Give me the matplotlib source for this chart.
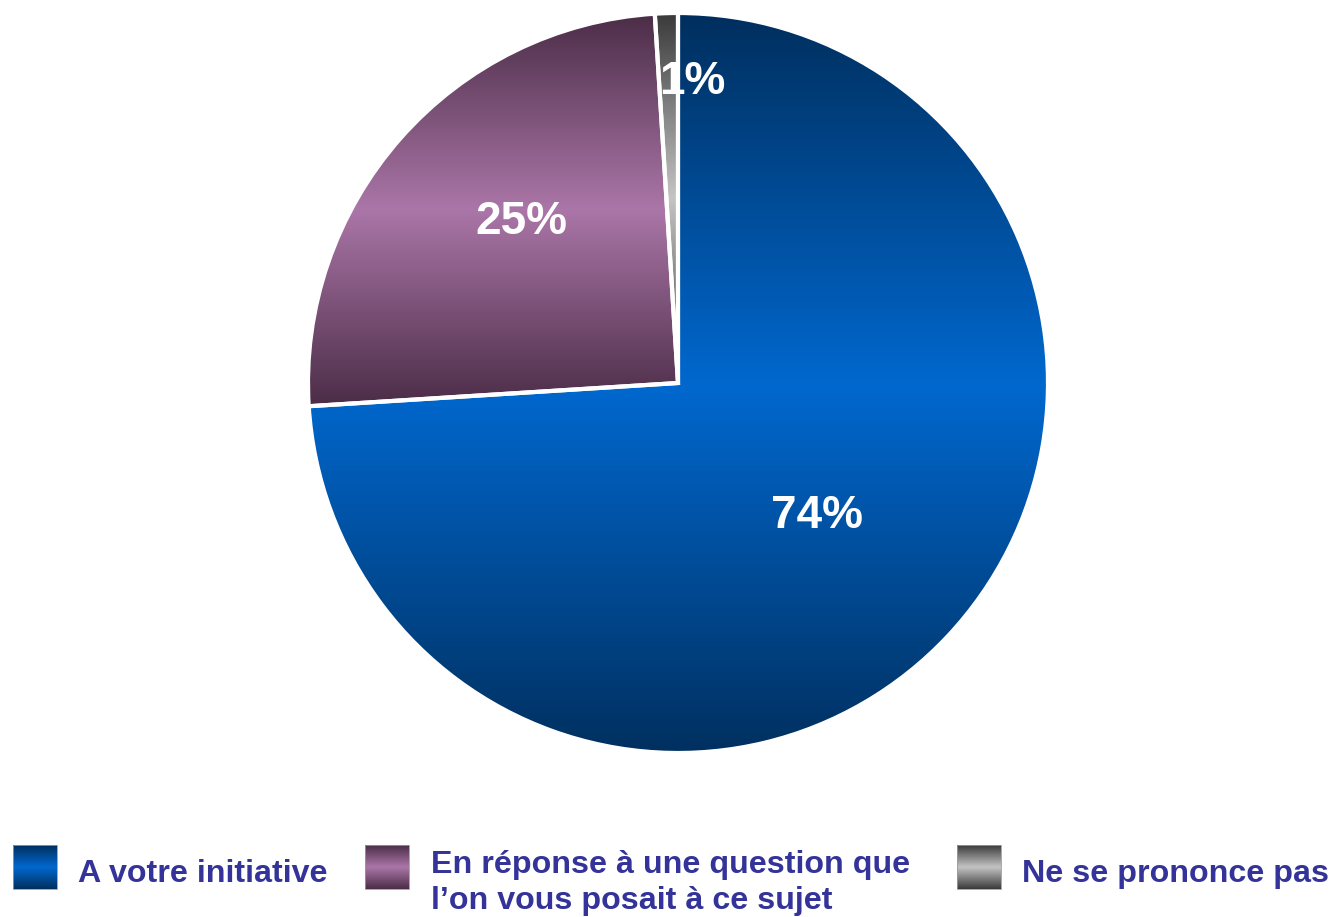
import numpy as np
import matplotlib.pyplot as plt
from matplotlib.colors import LinearSegmentedColormap
from matplotlib.patches import Rectangle

plt.rcParams['font.family'] = ['Liberation Sans', 'DejaVu Sans']

labels = ['A votre initiative',
          'En réponse à une question que\nl\u2019on vous posait à ce sujet',
          'Ne se prononce pas']
values = [74, 25, 1]
dark = ['#002f5e', '#4b2d47', '#3a3a3a']
light = ['#0068cf', '#ab76a8', '#c4c4c4']
txt_color = '#333399'

# pixel positions of the percent labels (layout)
pct_pos = [(817, 516), (521, 222), (692, 82)]
cx, cy, r = 678, 383, 370

W, H = 1333, 917
fig = plt.figure(figsize=(W / 100, H / 100), dpi=100)

ax = fig.add_axes([(cx - r) / W, (H - cy - r) / H, 2 * r / W, 2 * r / H])
wedges, texts, autotexts = ax.pie(
    values, startangle=90, counterclock=False, radius=1,
    autopct='%d%%',
    wedgeprops=dict(edgecolor='white', linewidth=3),
    textprops=dict(color='white', fontsize=33, fontweight='bold'))

grad = np.linspace(0, 1, 256).reshape(-1, 1)
for i, w in enumerate(wedges):
    cmap = LinearSegmentedColormap.from_list('g%d' % i, [dark[i], light[i], dark[i]])
    ys = w.get_path().vertices[:, 1]
    im = ax.imshow(grad, extent=[-1, 1, ys.min(), ys.max()], cmap=cmap,
                   aspect='auto', origin='lower', zorder=1)
    im.set_clip_path(w)
    w.set_facecolor('none')
    w.set_zorder(2)

for t, (px, py) in zip(autotexts, pct_pos):
    t.set_position(((px - cx) / r, (cy - py) / r))
    t.set_zorder(3)

ax.set_xlim(-1, 1)
ax.set_ylim(-1, 1)
ax.set_aspect('equal')
ax.axis('off')

# legend
lax = fig.add_axes([0, 0, 1, 1])
sq_x = [13, 365, 957]
txt_x = [78, 431, 1022]
txt_y = [874, 883, 874]
sq_y, sq = 845, 44
for i in range(3):
    cmap = LinearSegmentedColormap.from_list('l%d' % i, [dark[i], light[i], dark[i]])
    lax.imshow(grad, extent=[sq_x[i], sq_x[i] + sq, sq_y + sq, sq_y], cmap=cmap,
               aspect='auto', zorder=1)
    lax.add_patch(Rectangle((sq_x[i], sq_y), sq, sq, fill=False,
                            edgecolor='#9a9aaa', linewidth=0.6, zorder=2))
    lax.text(txt_x[i], txt_y[i], labels[i], color=txt_color, fontsize=23.2,
             fontweight='bold', va='center', ha='left', linespacing=1.25)
lax.set_xlim(0, W)
lax.set_ylim(H, 0)
lax.axis('off')

fig.savefig('out.png', dpi=100)
